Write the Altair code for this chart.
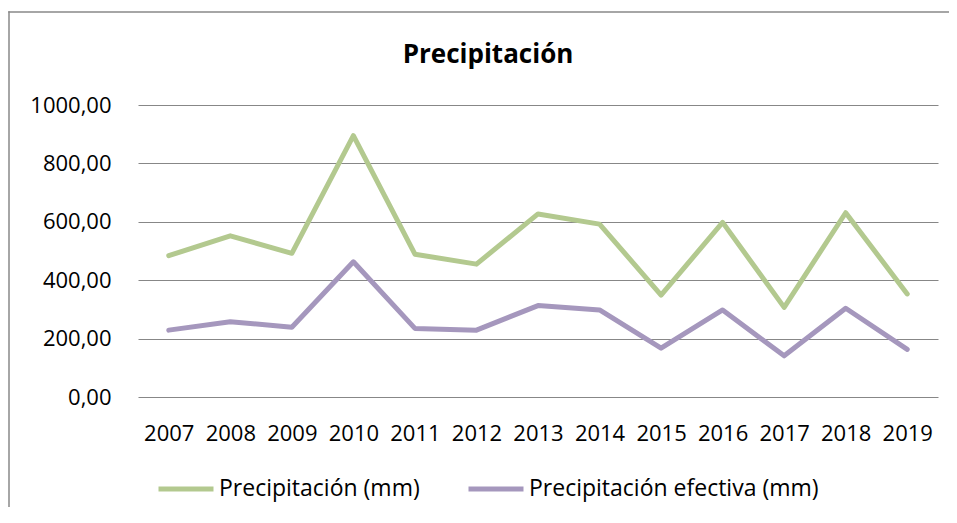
import altair as alt
import pandas as pd

years = ["2007", "2008", "2009", "2010", "2011", "2012", "2013",
         "2014", "2015", "2016", "2017", "2018", "2019"]
precip = [484, 552, 492, 895, 489, 455, 627, 592, 349, 598, 307, 631, 353]
precip_ef = [229, 258, 239, 463, 235, 229, 313, 298, 167, 298, 141, 304, 163]
series = ["Precipitación (mm)", "Precipitación efectiva (mm)"]
y_ticks = [0, 200, 400, 600, 800, 1000]

rows = []
for s, vals in zip(series, [precip, precip_ef]):
    for yr, v in zip(years, vals):
        rows.append({"Año": yr, "Serie": s, "Valor": v})
df = pd.DataFrame(rows)

FONT = "Open Sans"

lines = alt.Chart(df).mark_line(strokeWidth=5, strokeCap="round", strokeJoin="round").encode(
    x=alt.X("Año:N", sort=years, title=None,
            scale=alt.Scale(paddingOuter=0.5, paddingInner=0),
            axis=alt.Axis(labelAngle=0, ticks=False, domain=False, grid=False,
                          labelFont=FONT, labelFontSize=22, labelColor="black",
                          labelPadding=26)),
    y=alt.Y("Valor:Q", title=None,
            scale=alt.Scale(domain=[0, 1000], nice=False),
            axis=alt.Axis(values=y_ticks, ticks=False, domain=False, grid=True,
                          gridColor="#878787", gridWidth=1.2,
                          labelFont=FONT, labelFontSize=22, labelColor="black",
                          labelPadding=27,
                          labelExpr="replace(format(datum.value, '.2f'), '.', ',')")),
    color=alt.Color("Serie:N",
                    scale=alt.Scale(domain=series, range=["#b3c98f", "#a597bd"]),
                    legend=alt.Legend(title=None, orient="none", direction="horizontal",
                                      legendX=18, legendY=354,
                                      symbolType="stroke", symbolSize=3025,
                                      symbolStrokeWidth=5,
                                      labelFont=FONT, labelFontSize=23,
                                      labelColor="black", labelOffset=3,
                                      columnPadding=38, labelLimit=400)),
)

# chart-area frame: left and top edges only, drawn as thin filled bars (no stroke)
frame_left = alt.Chart(alt.Data(values=[{}])).mark_rect(
    fill="#898989", strokeWidth=0, clip=False
).encode(x=alt.value(-129.75), x2=alt.value(-128.25), y=alt.value(-93.75), y2=alt.value(410))

frame_top = alt.Chart(alt.Data(values=[{}])).mark_rect(
    fill="#898989", strokeWidth=0, clip=False
).encode(x=alt.value(-129.75), x2=alt.value(811), y=alt.value(-93.75), y2=alt.value(-92.25))

chart = alt.layer(frame_left, frame_top, lines).properties(
    width=800, height=292,
    autosize="none",
    padding={"left": 130, "top": 97, "right": 11, "bottom": 110},
    title=alt.TitleParams("Precipitación", font=FONT, fontSize=26, fontWeight="bold",
                          color="black", anchor="middle", dx=-50, offset=0, dy=57),
).configure_view(stroke=None)

chart.save("out.html", embed_options={"renderer": "svg", "actions": False})
